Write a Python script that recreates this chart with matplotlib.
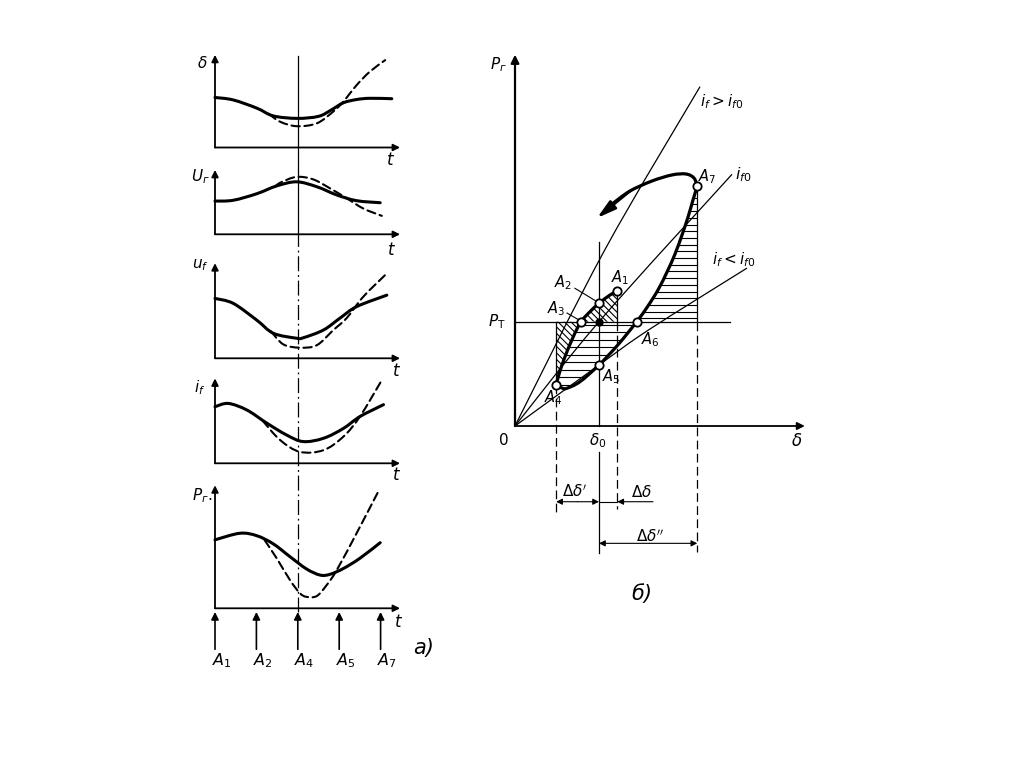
import matplotlib
matplotlib.use('Agg')
import matplotlib.pyplot as plt
from matplotlib.path import Path
from matplotlib.patches import PathPatch, Polygon
import numpy as np

plt.rcParams['font.family'] = ['DejaVu Sans']
plt.rcParams['mathtext.fontset'] = 'dejavusans'

W, H = 1024, 767

# ---------------- DATA: left panel (a) time histories ----------------
# t measured in units of the spacing between instants A1, A2, A4, A5, A7
instant_t = [0, 1, 2, 3, 4]
instant_labels = ['$A_1$', '$A_2$', '$A_4$', '$A_5$', '$A_7$']

delta_t_solid = [0.0, 0.44, 1.01, 1.41, 1.99, 2.5, 2.8, 3.1, 3.42, 3.74, 4.27]
delta_solid = [1.22, 1.16, 0.96, 0.77, 0.71, 0.76, 0.91, 1.09, 1.17, 1.20, 1.19]
delta_t_dash = [1.3, 1.57, 1.97, 2.46, 2.86, 3.10, 3.42, 3.74, 4.11]
delta_dash = [0.82, 0.63, 0.52, 0.59, 0.88, 1.12, 1.52, 1.85, 2.13]

ug_t_solid = [0.0, 0.44, 1.01, 1.49, 1.97, 2.46, 2.94, 3.42, 3.99]
ug_solid = [0.81, 0.83, 0.99, 1.18, 1.28, 1.16, 0.96, 0.82, 0.77]
ug_t_dash = [1.45, 1.60, 1.97, 2.37, 2.78, 3.18, 3.58, 4.03]
ug_dash = [1.17, 1.27, 1.40, 1.34, 1.12, 0.88, 0.63, 0.45]

uf_t_solid = [0.0, 0.44, 1.01, 1.41, 1.97, 2.13, 2.62, 3.02, 3.42, 4.15]
uf_solid = [1.46, 1.34, 0.93, 0.61, 0.49, 0.50, 0.69, 0.98, 1.26, 1.54]
uf_t_dash = [1.35, 1.65, 2.05, 2.46, 2.86, 3.18, 3.58, 4.15]
uf_dash = [0.66, 0.34, 0.26, 0.32, 0.69, 0.98, 1.50, 2.07]

if_t_solid = [0.0, 0.32, 0.77, 1.25, 1.73, 2.13, 2.62, 3.10, 3.50, 4.07]
if_solid = [1.38, 1.46, 1.30, 0.98, 0.69, 0.53, 0.61, 0.85, 1.14, 1.43]
if_t_dash = [1.15, 1.57, 2.05, 2.62, 3.10, 3.50, 4.03]
if_dash = [1.04, 0.57, 0.28, 0.32, 0.65, 1.14, 2.03]

pg_t_solid = [0.0, 0.60, 1.01, 1.41, 1.81, 2.21, 2.54, 2.78, 3.10, 3.50, 3.99]
pg_solid = [1.67, 1.83, 1.77, 1.57, 1.26, 0.96, 0.81, 0.83, 0.97, 1.22, 1.60]
pg_t_dash = [1.2, 1.49, 1.81, 2.05, 2.21, 2.46, 2.70, 2.94, 3.42, 3.94]
pg_dash = [1.66, 1.22, 0.69, 0.37, 0.28, 0.30, 0.57, 0.93, 1.83, 2.84]

# ---------------- DATA: right panel (b) power-angle diagram ----------------
# delta in units of delta0, P in units of P_T
char_hi_d = [0.0, 1.07, 2.20]          # i_f > i_f0
char_hi_p = [0.0, 1.69, 3.25]
char_0_d = [0.0, 1.0, 2.58]            # i_f0
char_0_p = [0.0, 1.0, 2.41]
char_lo_d = [0.0, 1.0, 1.607, 2.758]   # i_f < i_f0
char_lo_p = [0.0, 0.585, 0.93, 1.512]

upper_d = [1.218, 1.131, 1.0, 0.893, 0.786, 0.694, 0.595, 0.527, 0.49]   # A1 -> A4
upper_p = [1.294, 1.256, 1.176, 1.096, 1.0, 0.856, 0.664, 0.505, 0.393]
lower_d = [0.49, 0.56, 0.615, 0.774, 1.0, 1.226, 1.449, 1.583, 1.702, 1.810, 1.905,
           1.988, 2.060, 2.119, 2.17]  # A4 -> A7
lower_p = [0.393, 0.364, 0.361, 0.425, 0.585, 0.779, 1.0, 1.151, 1.304, 1.477, 1.649,
           1.831, 2.004, 2.167, 2.301]
return_d = [2.17, 2.13, 2.036, 1.869, 1.631, 1.369, 1.155, 0.976]          # after A7
return_p = [2.301, 2.378, 2.416, 2.407, 2.349, 2.253, 2.128, 1.994]

pt_names = ['$A_1$', '$A_2$', '$A_3$', '$A_4$', '$A_5$', '$A_6$', '$A_7$']
pt_d = [1.218, 1.0, 0.786, 0.49, 1.0, 1.449, 2.17]
pt_p = [1.294, 1.176, 1.0, 0.393, 0.585, 1.0, 2.301]
pt_label_d = [1.25, 0.571, 0.488, 0.452, 1.143, 1.607, 2.29]
pt_label_p = [1.419, 1.371, 1.122, 0.268, 0.47, 0.825, 2.39]

delta0, P_T = 1.0, 1.0
d_A4, d_A1, d_A7 = 0.49, 1.218, 2.17
dd_small_end = 1.643


# ---------------- helpers ----------------
fig = plt.figure(figsize=(W / 100, H / 100), dpi=100)
fig.patch.set_facecolor('white')


def px_axes(ox, oy, ux, uy, xlim, ylim):
    left = ox + xlim[0] * ux
    right = ox + xlim[1] * ux
    top = oy - ylim[1] * uy
    bottom = oy - ylim[0] * uy
    ax = fig.add_axes([left / W, 1 - bottom / H, (right - left) / W, (bottom - top) / H])
    ax.set_xlim(xlim)
    ax.set_ylim(ylim)
    ax.axis('off')
    return ax


def smooth_path(xs, ys):
    p = np.column_stack([xs, ys]).astype(float)
    n = len(p)
    verts = [p[0]]
    codes = [Path.MOVETO]
    for i in range(n - 1):
        p0 = p[i - 1] if i > 0 else p[i]
        p1, p2 = p[i], p[i + 1]
        p3 = p[i + 2] if i + 2 < n else p[i + 1]
        c1 = p1 + (p2 - p0) / 6.0
        c2 = p2 - (p3 - p1) / 6.0
        verts += [c1, c2, p2]
        codes += [Path.CURVE4] * 3
    return Path(verts, codes)


def curve(ax, xs, ys, lw, ls='-', z=3):
    patch = PathPatch(smooth_path(xs, ys), facecolor='none', edgecolor='black',
                      lw=lw, linestyle=ls, capstyle='round', joinstyle='round', zorder=z)
    patch.set_clip_on(False)
    ax.add_patch(patch)


def arrow(ax, xy_from, xy_to, lw=1.2, ms=12, style='-|>'):
    ax.annotate('', xy=xy_to, xytext=xy_from, annotation_clip=False,
                arrowprops=dict(arrowstyle=style, lw=lw, color='black',
                                mutation_scale=ms, shrinkA=0, shrinkB=0))


DASH = (0, (4.0, 2.2))

# ---------------- left panel (a) ----------------
TX0, TUX, VUY = 215, 41.4, 41.0
panels = [
    (147.5, 2.26, r'$\delta$', (-0.31, 2.07), (4.23, -0.30),
     delta_t_solid, delta_solid, delta_t_dash, delta_dash),
    (234.3, 1.57, r'$U_{г}$', (-0.36, 1.40), (4.27, -0.38),
     ug_t_solid, ug_solid, ug_t_dash, ug_dash),
    (358.3, 2.32, r'$u_f$', (-0.36, 2.26), (4.39, -0.32),
     uf_t_solid, uf_solid, uf_t_dash, uf_dash),
    (463.3, 2.07, r'$i_f$', (-0.36, 1.85), (4.39, -0.29),
     if_t_solid, if_solid, if_t_dash, if_dash),
    (608.3, 3.00, r'$P_{г}.$', (-0.31, 2.75), (4.43, -0.33),
     pg_t_solid, pg_solid, pg_t_dash, pg_dash),
]
left_axes = []
for base, top, lab, labpos, tpos, ts, vs, td, vd in panels:
    ax = px_axes(TX0, base, TUX, VUY, (-0.7, 5.5), (-1.6, top + 0.3))
    left_axes.append(ax)
    arrow(ax, (0, 0), (0, top), lw=1.3, ms=10)
    arrow(ax, (0, 0), (4.47, 0), lw=1.3, ms=10)
    curve(ax, ts, vs, lw=2.2)
    curve(ax, td, vd, lw=1.5, ls=DASH)
    ax.text(labpos[0], labpos[1], lab, fontsize=11, ha='center', va='center')
    ax.text(tpos[0], tpos[1], '$t$', fontsize=12, ha='center', va='center')

ax5 = left_axes[-1]
for t, name in zip(instant_t, instant_labels):
    arrow(ax5, (t, -1.0), (t, -0.09), lw=1.2, ms=11)
    ax5.text(t - 0.08, -1.27, name, fontsize=11.5, ha='left', va='center')
ax5.text(5.05, -0.97, 'а)', fontsize=15, style='italic', ha='center', va='center')
# vertical dash-dot line through instant A4
ax5.plot([2, 2], [-0.09, 8.86], color='black', lw=0.9, ls=(0, (12, 3, 1.5, 3)),
         clip_on=False)
ax5.plot([2, 2], [8.86, 13.47], color='black', lw=0.9, clip_on=False)

# ---------------- right panel (b) ----------------
OX, OY, SX, SY = 515, 426, 84.0, 104.3
axr = px_axes(OX, OY, SX, SY, (-0.6, 3.7), (-1.9, 3.7))

arrow(axr, (0, 0), (0, 3.56), lw=1.6, ms=12)
arrow(axr, (0, 0), (3.45, 0), lw=1.3, ms=11)

for d, p in [(char_hi_d, char_hi_p), (char_0_d, char_0_p), (char_lo_d, char_lo_p)]:
    curve(axr, d, p, lw=0.9, z=2)

# P_T line and verticals
axr.plot([0, 2.56], [P_T, P_T], color='black', lw=0.9, clip_on=False)
axr.plot([delta0, delta0], [0, 1.764], color='black', lw=0.9, clip_on=False)
axr.plot([delta0, delta0], [-0.25, -1.22], color='black', lw=0.9, clip_on=False)
axr.plot([d_A1, d_A1], [P_T, pt_p[0]], color='black', lw=0.9, clip_on=False)
axr.plot([d_A4, d_A4], [pt_p[3], P_T], color='black', lw=0.9, clip_on=False)
axr.plot([d_A7, d_A7], [P_T, pt_p[6]], color='black', lw=0.9, clip_on=False)
VD = (0, (7, 3.5))
axr.plot([d_A4, d_A4], [pt_p[3], -0.82], color='black', lw=0.9, ls=VD, clip_on=False)
axr.plot([d_A1, d_A1], [P_T, -0.80], color='black', lw=0.9, ls=VD, clip_on=False)
axr.plot([d_A7, d_A7], [P_T, -1.21], color='black', lw=0.9, ls=VD, clip_on=False)


# hatching
def hatch(ax, xs, ys, kind, step_px=7.0):
    poly = Polygon(np.column_stack([xs, ys]), closed=True, facecolor='none',
                   edgecolor='none')
    ax.add_patch(poly)
    x0, x1 = min(xs), max(xs)
    y0, y1 = min(ys), max(ys)
    if kind == 'h':
        ps = np.arange(y0 + step_px / SY * 0.5, y1, step_px / SY)
        for p in ps:
            ln, = ax.plot([x0, x1], [p, p], color='black', lw=0.8)
            ln.set_clip_path(poly)
    else:
        k = SX / SY
        bs = np.arange(y0 + k * x0, y1 + k * x1 + step_px / SY, step_px / SY)
        for b in bs:
            ln, = ax.plot([x0, x1], [b - k * x0, b - k * x1], color='black', lw=0.8)
            ln.set_clip_path(poly)


# diagonal hatch: above P_T between upper branch (A3..A1) and vertical at A1
i3 = 4
hatch(axr, upper_d[:i3 + 1] + [d_A1], upper_p[:i3 + 1] + [P_T], 'd', step_px=6.5)
# diagonal hatch: below P_T left of upper branch (A3..A4)
hatch(axr, [d_A4] + upper_d[i3:], [P_T] + upper_p[i3:], 'd', step_px=6.5)
# horizontal hatch between branches below P_T
i6 = 6
hatch(axr, upper_d[i3:] + lower_d[1:i6 + 1], upper_p[i3:] + lower_p[1:i6 + 1], 'h', 7.5)
# horizontal hatch right of A6..A7
hatch(axr, lower_d[i6:] + [d_A7], lower_p[i6:] + [P_T], 'h', 6.7)

# trajectory
curve(axr, upper_d, upper_p, lw=2.3, z=4)
curve(axr, lower_d, lower_p, lw=2.3, z=4)
curve(axr, return_d[:-1], return_p[:-1], lw=2.3, z=4)
axr.annotate('', xy=(return_d[-1], return_p[-1]), xytext=(return_d[-3], return_p[-3]),
             annotation_clip=False,
             arrowprops=dict(arrowstyle='-|>,head_length=0.8,head_width=0.22', lw=2.0,
                             color='black', mutation_scale=14, shrinkA=0, shrinkB=0),
             zorder=5)

axr.plot(pt_d, pt_p, 'o', ms=6, mfc='white', mec='black', mew=1.3, zorder=6,
         clip_on=False)
axr.plot([delta0], [P_T], 'o', ms=5, color='black', zorder=6)
for name, ld, lp in zip(pt_names, pt_label_d, pt_label_p):
    axr.text(ld, lp, name, fontsize=10.5, ha='center', va='center', zorder=7)
# leaders for A2, A3
axr.plot([0.714, 0.964], [1.32, 1.198], color='black', lw=0.8)
axr.plot([0.619, 0.762], [1.083, 1.016], color='black', lw=0.8)

axr.text(-0.20, 3.46, r'$P_{г}$', fontsize=11, ha='center', va='center')
axr.text(-0.22, 1.0, r'$P_{\mathrm{Т}}$', fontsize=11, ha='center', va='center')
axr.text(-0.143, -0.134, '$0$', fontsize=11, ha='center', va='center')
axr.text(0.988, -0.144, r'$\delta_0$', fontsize=11, ha='center', va='center')
axr.text(3.357, -0.144, r'$\delta$', fontsize=12, ha='center', va='center')
axr.text(2.202, 3.106, r'$i_f > i_{f0}$', fontsize=11, ha='left', va='center')
axr.text(2.62, 2.407, r'$i_{f0}$', fontsize=11.5, ha='left', va='center')
axr.text(2.34, 1.592, r'$i_f < i_{f0}$', fontsize=11, ha='left', va='center')

# dimension arrows
yA, yB = -0.726, -1.125
arrow(axr, (0.745, yA), (d_A4, yA), lw=0.8, ms=9)
arrow(axr, (0.745, yA), (delta0, yA), lw=0.8, ms=9)
axr.plot([delta0, d_A1], [yA, yA], color='black', lw=0.8)
arrow(axr, (dd_small_end, yA), (d_A1, yA), lw=0.8, ms=9)
arrow(axr, (1.6, yB), (delta0, yB), lw=0.8, ms=9)
arrow(axr, (1.6, yB), (d_A7, yB), lw=0.8, ms=9)
axr.text(0.714, -0.63, r"$\Delta\delta'$", fontsize=11, ha='center', va='center')
axr.text(1.51, -0.63, r'$\Delta\delta$', fontsize=11, ha='center', va='center')
axr.text(1.607, -1.06, r"$\Delta\delta''$", fontsize=11, ha='center', va='center')
axr.text(1.512, -1.611, 'б)', fontsize=15, style='italic', ha='center', va='center')

fig.savefig('out.png', dpi=100, facecolor='white')
